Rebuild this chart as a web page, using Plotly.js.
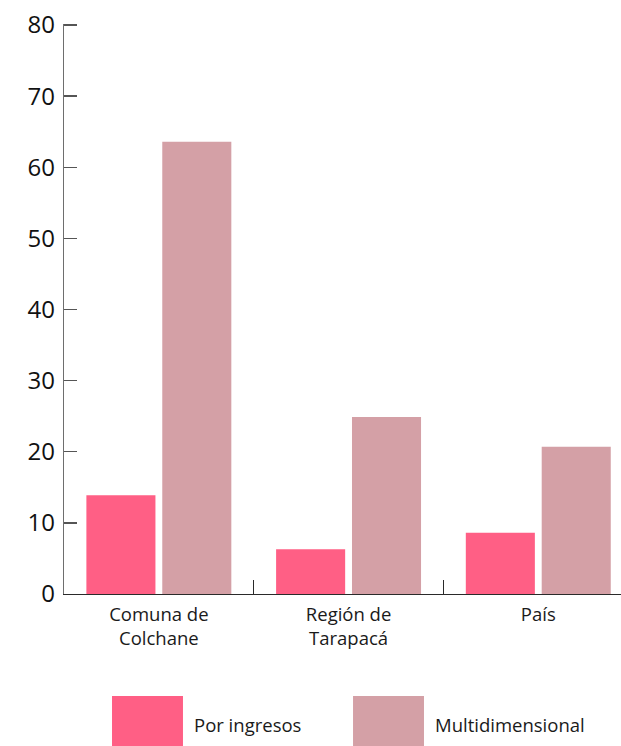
<!DOCTYPE html>
<html>
<head>
<meta charset="utf-8">
<script src="https://cdn.plot.ly/plotly-3.0.1.min.js"></script>
<style>html,body{margin:0;padding:0;background:#fff;}#chart{width:621px;height:746px;}</style>
</head>
<body>
<div id="chart"></div>
<script>
var categories = ["Comuna de<br>Colchane", "Región de<br>Tarapacá", "País"];
var seriesNames = ["Por ingresos", "Multidimensional"];
var porIngresos = [13.9, 6.3, 8.6];
var multidimensional = [63.6, 24.9, 20.7];
var yTicks = [0, 10, 20, 30, 40, 50, 60, 70, 80];
var colors = ["#ff5f85", "#d4a0a6"];

var font = "'Open Sans', 'Noto Sans', sans-serif";

var traces = [
  {type: "bar", x: categories, y: porIngresos, name: seriesNames[0], marker: {color: colors[0]}, hoverinfo: "skip"},
  {type: "bar", x: categories, y: multidimensional, name: seriesNames[1], marker: {color: colors[1]}, hoverinfo: "skip"}
];

var layout = {
  width: 621, height: 746,
  margin: {l: 64, r: 0, t: 24, b: 152},
  paper_bgcolor: "#ffffff", plot_bgcolor: "#ffffff",
  showlegend: false,
  barmode: "group", bargap: 0.2, bargroupgap: 0.09,
  font: {family: font, color: "#1a1a1a"},
  xaxis: {
    type: "category", range: [-0.5, 2.436],
    showline: true, linecolor: "#2a2a2a", linewidth: 1.3,
    ticks: "inside", tickson: "boundaries", ticklen: 14, tickcolor: "#2a2a2a", tickwidth: 1.3,
    tickfont: {size: 18.5, family: font, color: "#1a1a1a"},
    ticklabelstandoff: 3,
    showgrid: false, zeroline: false, fixedrange: true
  },
  yaxis: {
    range: [0, 80.15], tickvals: yTicks, ticktext: yTicks.map(String),
    showline: true, linecolor: "#6e6e6e", linewidth: 1.3,
    ticks: "inside", ticklen: 13, tickcolor: "#555555", tickwidth: 1.4,
    tickfont: {size: 24, family: font, color: "#111"},
    ticklabelstandoff: 3,
    showgrid: false, zeroline: false, fixedrange: true
  },
  shapes: [
    {type: "rect", xref: "paper", yref: "paper", x0: 0.0862, x1: 0.2136, y0: -0.2667, y1: -0.1789, fillcolor: colors[0], line: {width: 0}},
    {type: "rect", xref: "paper", yref: "paper", x0: 0.5189, x1: 0.6463, y0: -0.2667, y1: -0.1789, fillcolor: colors[1], line: {width: 0}}
  ],
  annotations: [
    {xref: "paper", yref: "paper", x: 0.2298, y: -0.2281, xanchor: "left", yanchor: "middle", text: seriesNames[0], showarrow: false, font: {size: 18.5, family: font, color: "#1a1a1a"}},
    {xref: "paper", yref: "paper", x: 0.6625, y: -0.2281, xanchor: "left", yanchor: "middle", text: seriesNames[1], showarrow: false, font: {size: 18.5, family: font, color: "#1a1a1a"}}
  ]
};

Plotly.newPlot("chart", traces, layout, {displayModeBar: false, staticPlot: true});
</script>
</body>
</html>
